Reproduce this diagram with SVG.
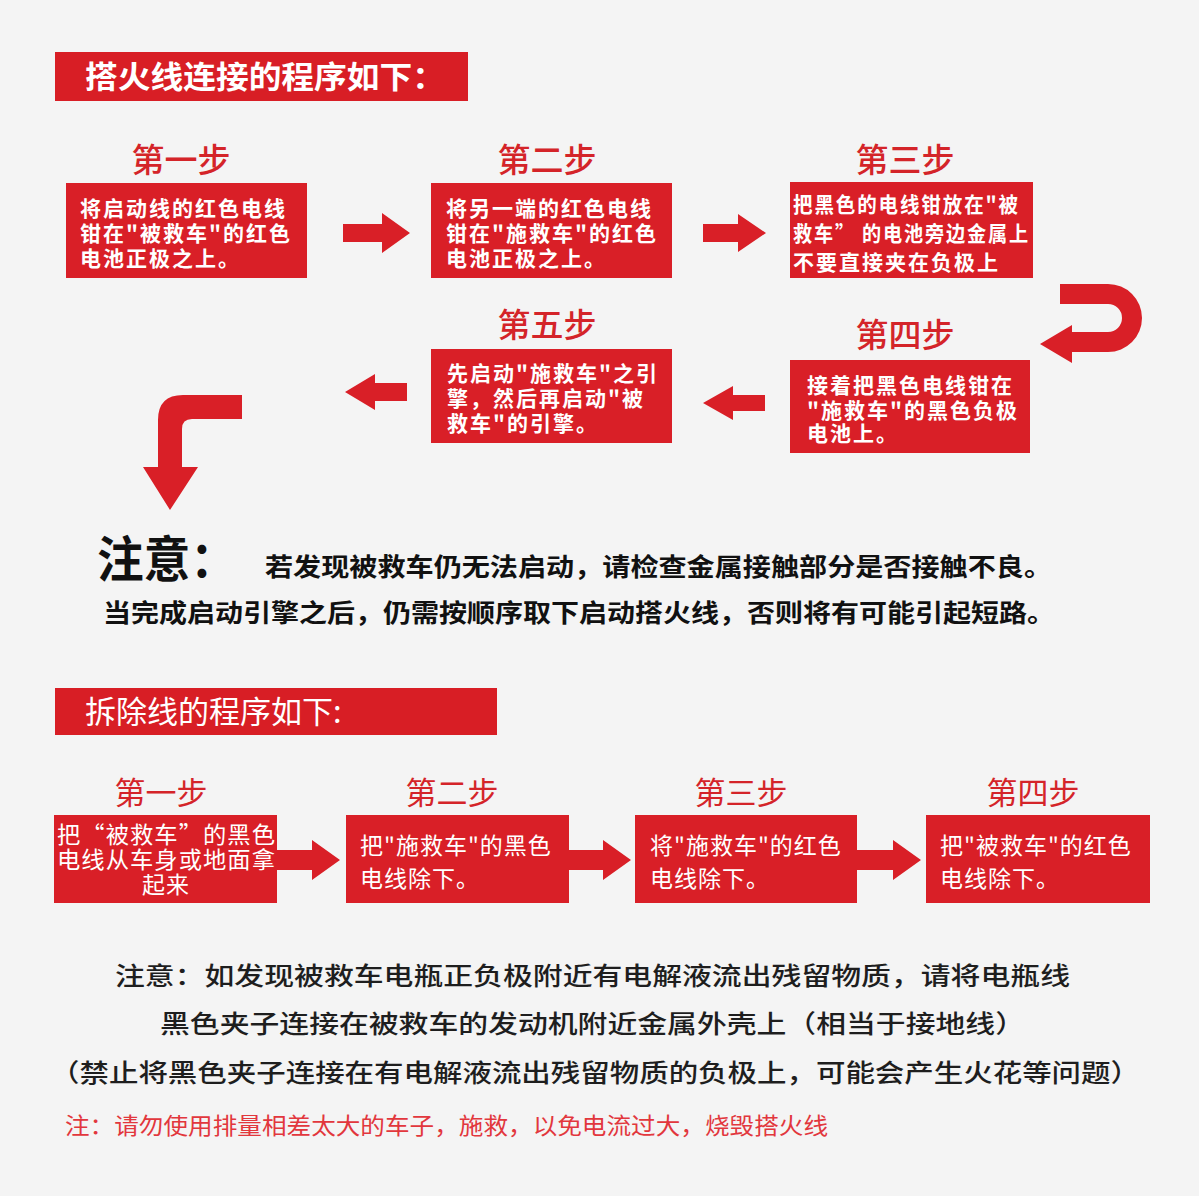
<svg xmlns="http://www.w3.org/2000/svg" width="1199" height="1196" viewBox="0 0 1199 1196">
<style>
.bg{fill:#f4f4f4}
.box{fill:#d91f27}
.ban{fill:#d81e25}
.arr{fill:#d91f27}
.t{font-family:"Noto Sans CJK SC","Noto Sans",sans-serif}
.step{font-size:33px;fill:#d42429;font-weight:500}
.step2{font-size:31px;fill:#d42429}
.bt{font-size:21px;fill:#ffffff;font-weight:bold;letter-spacing:2px}
.bt2{font-size:23px;fill:#ffffff;letter-spacing:1px}
.note{font-size:25px;fill:#111;font-weight:bold}
.note2{font-size:25px;fill:#1e1e1e;font-weight:500}
.red{font-size:23px;fill:#e2373d}
</style>
<rect class="bg" x="0" y="0" width="1199" height="1196"/>

<g id="banner1">
<rect class="ban" x="55" y="52" width="413" height="49"/>
<text class="t" x="85" y="88" font-size="31" font-weight="bold" fill="#fff" textLength="360" lengthAdjust="spacingAndGlyphs">搭火线连接的程序如下：</text>
</g>

<g id="step1">
<text class="t step" x="181" y="172" text-anchor="middle">第一步</text>
<rect class="box" x="66" y="183" width="241" height="95"/>
<text class="t bt" x="80" y="216">将启动线的红色电线</text>
<text class="t bt" x="80" y="241">钳在"被救车"的红色</text>
<text class="t bt" x="80" y="266">电池正极之上。</text>
</g>
<g id="step2">
<text class="t step" x="547" y="172" text-anchor="middle">第二步</text>
<rect class="box" x="431" y="183" width="241" height="95"/>
<text class="t bt" x="446" y="216">将另一端的红色电线</text>
<text class="t bt" x="446" y="241">钳在"施救车"的红色</text>
<text class="t bt" x="446" y="266">电池正极之上。</text>
</g>
<g id="step3">
<text class="t step" x="905" y="172" text-anchor="middle">第三步</text>
<rect class="box" x="790" y="182" width="243" height="96"/>
<text class="t bt" x="793" y="212" textLength="227" lengthAdjust="spacingAndGlyphs">把黑色的电线钳放在"被</text>
<text class="t bt" x="793" y="241" textLength="237" lengthAdjust="spacingAndGlyphs">救车” 的电池旁边金属上</text>
<text class="t bt" x="793" y="270">不要直接夹在负极上</text>
</g>
<g id="step4">
<text class="t step" x="905" y="347" text-anchor="middle">第四步</text>
<rect class="box" x="790" y="360" width="240" height="93"/>
<text class="t bt" x="807" y="393">接着把黑色电线钳在</text>
<text class="t bt" x="807" y="418">"施救车"的黑色负极</text>
<text class="t bt" x="807" y="441">电池上。</text>
</g>
<g id="step5">
<text class="t step" x="547" y="337" text-anchor="middle">第五步</text>
<rect class="box" x="431" y="349" width="241" height="94"/>
<text class="t bt" x="447" y="381">先启动"施救车"之引</text>
<text class="t bt" x="447" y="406">擎，然后再启动"被</text>
<text class="t bt" x="447" y="431">救车"的引擎。</text>
</g>

<g id="connectors">
<path class="arr" d="M343,224 H382 V213 L410,233 L382,253 V242 H343 Z"/>
<path class="arr" d="M703,224 H738 V214 L766,233 L738,252 V242 H703 Z"/>
<path class="arr" d="M1060,284 H1108 A34,34 0 0 1 1108,352 H1072 V363 L1040,344 L1072,325 V332 H1108 A14,14 0 0 0 1108,304 H1060 Z"/>
<path class="arr" d="M765,395 H733 V386 L703,403 L733,420 V411 H765 Z"/>
<path class="arr" d="M407,383 H375 V374 L345,392 L375,410 V401 H407 Z"/>
<path class="arr" d="M242,395 V419 H192 Q182,419 182,429 V467 H198 L170,510 L143,467 H158 V420 Q158,395 183,395 Z"/>
<path class="arr" d="M277,850 H312 V840 L340,860 L312,880 V870 H277 Z"/>
<path class="arr" d="M569,850 H603 V840 L631,860 L603,880 V870 H569 Z"/>
<path class="arr" d="M857,850 H893 V840 L921,860 L893,880 V870 H857 Z"/>
</g>

<g id="notes1">
<text class="t" x="97" y="577" font-size="49" font-weight="bold" fill="#111" textLength="140" lengthAdjust="spacingAndGlyphs">注意：</text>
<text class="t note" x="265" y="576" textLength="787" lengthAdjust="spacingAndGlyphs">若发现被救车仍无法启动，请检查金属接触部分是否接触不良。</text>
<text class="t note" x="103" y="622" textLength="952" lengthAdjust="spacingAndGlyphs">当完成启动引擎之后，仍需按顺序取下启动搭火线，否则将有可能引起短路。</text>
</g>

<g id="banner2">
<rect class="ban" x="55" y="688" width="442" height="47"/>
<text class="t" x="85" y="723" font-size="31" fill="#fff">拆除线的程序如下:</text>
</g>

<g id="r1">
<text class="t step2" x="161" y="804" text-anchor="middle">第一步</text>
<rect class="box" x="54" y="815" width="223" height="88"/>
<text class="t bt2" x="57" y="843" font-size="22" textLength="219" lengthAdjust="spacingAndGlyphs">把“被救车”的黑色</text>
<text class="t bt2" x="57" y="868" font-size="22" textLength="219" lengthAdjust="spacingAndGlyphs">电线从车身或地面拿</text>
<text class="t bt2" x="166" y="893" font-size="22" text-anchor="middle">起来</text>
</g>
<g id="r2">
<text class="t step2" x="452" y="804" text-anchor="middle">第二步</text>
<rect class="box" x="346" y="815" width="223" height="88"/>
<text class="t bt2" x="360" y="854">把"施救车"的黑色</text>
<text class="t bt2" x="360" y="887">电线除下。</text>
</g>
<g id="r3">
<text class="t step2" x="741" y="804" text-anchor="middle">第三步</text>
<rect class="box" x="635" y="815" width="222" height="88"/>
<text class="t bt2" x="650" y="854">将"施救车"的红色</text>
<text class="t bt2" x="650" y="887">电线除下。</text>
</g>
<g id="r4">
<text class="t step2" x="1033" y="804" text-anchor="middle">第四步</text>
<rect class="box" x="926" y="815" width="224" height="88"/>
<text class="t bt2" x="940" y="854">把"被救车"的红色</text>
<text class="t bt2" x="940" y="887">电线除下。</text>
</g>

<g id="notes2">
<text class="t note2" x="115" y="985" textLength="955" lengthAdjust="spacingAndGlyphs">注意：如发现被救车电瓶正负极附近有电解液流出残留物质，请将电瓶线</text>
<text class="t note2" x="160" y="1033" textLength="865" lengthAdjust="spacingAndGlyphs">黑色夹子连接在被救车的发动机附近金属外壳上（相当于接地线）</text>
<text class="t note2" x="50" y="1082" textLength="1090" lengthAdjust="spacingAndGlyphs">（禁止将黑色夹子连接在有电解液流出残留物质的负极上，可能会产生火花等问题）</text>
<text class="t red" x="65" y="1134" textLength="763" lengthAdjust="spacingAndGlyphs">注：请勿使用排量相差太大的车子，施救，以免电流过大，烧毁搭火线</text>
</g>
</svg>
